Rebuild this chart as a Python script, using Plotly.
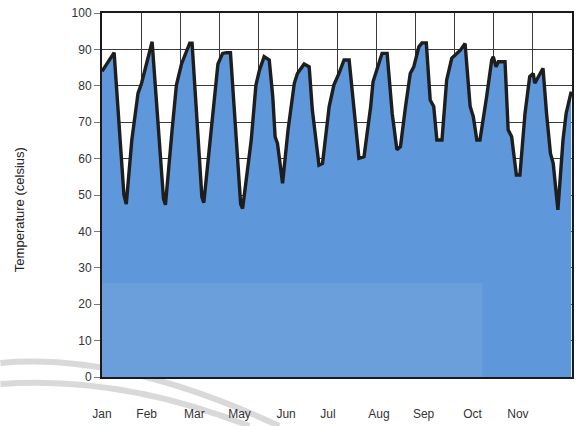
import plotly.graph_objects as go

# x position in months from the start of the chart (0 = left edge, 12 = right edge)
months = [0.00, 0.16, 0.31, 0.56, 0.62, 0.76, 0.92, 1.01, 1.14, 1.28,
          1.57, 1.62, 1.79, 1.90, 2.03, 2.24, 2.30, 2.55, 2.60, 2.79,
          2.96, 3.08, 3.17, 3.28, 3.54, 3.59, 3.81, 3.93, 4.02, 4.14,
          4.27, 4.36, 4.42, 4.48, 4.61, 4.75, 4.91, 4.99, 5.16, 5.29,
          5.37, 5.54, 5.63, 5.80, 5.92, 6.05, 6.18, 6.31, 6.56, 6.69,
          6.86, 6.92, 7.01, 7.15, 7.28, 7.41, 7.53, 7.62, 7.75, 7.87,
          7.96, 8.09, 8.17, 8.28, 8.38, 8.47, 8.55, 8.68, 8.80, 8.93,
          9.15, 9.27, 9.40, 9.48, 9.57, 9.65, 9.82, 9.95, 9.99, 10.06,
          10.12, 10.29, 10.37, 10.46, 10.50, 10.58, 10.67, 10.80, 10.92, 11.01,
          11.05, 11.18, 11.26, 11.35, 11.45, 11.52, 11.64, 11.77, 11.85, 11.98]
temperature = [84.0, 86.6, 89.1, 50.0, 47.5, 65.0, 78.0, 80.7, 86.0, 92.1,
               49.0, 47.3, 67.9, 80.2, 86.0, 91.7, 91.7, 49.5, 47.9, 67.9,
               86.0, 88.9, 89.1, 89.1, 47.5, 46.3, 65.1, 80.2, 84.3, 88.0,
               87.1, 77.0, 66.0, 64.2, 53.2, 67.9, 80.7, 83.4, 86.0, 85.2,
               73.4, 58.2, 58.7, 74.3, 80.2, 83.4, 87.1, 87.1, 60.1, 60.5,
               74.3, 81.1, 84.3, 88.9, 88.9, 72.4, 62.4, 63.3, 74.3, 83.4,
               85.2, 90.7, 91.8, 91.8, 76.1, 74.3, 65.1, 65.1, 81.6, 87.6,
               89.8, 91.6, 74.3, 71.5, 65.1, 65.1, 77.0, 87.1, 88.0, 85.2,
               86.6, 86.6, 67.9, 66.0, 62.4, 55.5, 55.5, 72.4, 82.5, 83.4,
               80.7, 83.4, 84.8, 72.4, 61.4, 58.7, 45.9, 65.1, 72.4, 78.4]

tick_labels = ["Jan", "Feb", "Mar", "May", "Jun", "Jul", "Aug", "Sep", "Oct", "Nov"]
tick_positions = [0.0, 1.14, 2.36, 3.51, 4.70, 5.77, 7.07, 8.21, 9.46, 10.62]
y_ticks = [0, 10, 20, 30, 40, 50, 60, 70, 80, 90, 100]

fig = go.Figure()
fig.add_trace(go.Scatter(
    x=months, y=temperature, mode="lines", fill="tozeroy",
    fillcolor="#5e97da",
    line=dict(color="#1e1e1e", width=3.4),
    hoverinfo="x+y", showlegend=False,
))

# lighter scanned patch in the lower-left of the plot
fig.add_shape(type="rect", xref="x", yref="y", x0=0, x1=9.71, y0=0, y1=25.8,
              fillcolor="white", opacity=0.08, line=dict(width=0), layer="above")

# faint grey scan arcs in the lower-left corner of the page
for p in ["M -0.2161,0.0385 Q 0.0381,0.0687 0.3771,-0.1346",
          "M -0.2161,-0.0192 Q 0.0381,0.0055 0.3136,-0.1346"]:
    fig.add_shape(type="path", xref="paper", yref="paper", path=p,
                  line=dict(color="#d9d9d9", width=6), layer="below")

font_family = "Liberation Sans, Arial, sans-serif"

fig.update_layout(
    width=579, height=426,
    margin=dict(l=102, r=5, t=13, b=49),
    paper_bgcolor="white", plot_bgcolor="white",
    font=dict(family=font_family, color="#333333", size=12),
    xaxis=dict(
        range=[0, 12], tickvals=tick_positions, ticktext=tick_labels,
        showgrid=False, zeroline=False,
        ticks="", ticklabelstandoff=25,
        tickfont=dict(size=12, color="#333333"),
        showline=True, linecolor="#1a1a1a", linewidth=2, mirror=True,
        minor=dict(tick0=0, dtick=1, showgrid=True, gridcolor="#3a3a3a", gridwidth=1, ticks=""),
    ),
    yaxis=dict(
        range=[0, 100], tickvals=y_ticks,
        showgrid=True, gridcolor="#3a3a3a", gridwidth=1, zeroline=False,
        ticks="outside", ticklen=6, tickcolor="#777777", tickwidth=1,
        tickfont=dict(size=12, color="#333333"),
        showline=True, linecolor="#1a1a1a", linewidth=2, mirror=True,
    ),
    annotations=[dict(
        text="Temperature (celsius)", xref="paper", yref="paper",
        x=-0.174, y=0.459, textangle=-90, showarrow=False,
        font=dict(size=13, color="#222222", family=font_family),
        xanchor="center", yanchor="middle",
    )],
)

fig.write_html("out.html", config={"displayModeBar": False},
               post_script="document.body.style.margin='0';document.body.style.overflow='hidden';")
